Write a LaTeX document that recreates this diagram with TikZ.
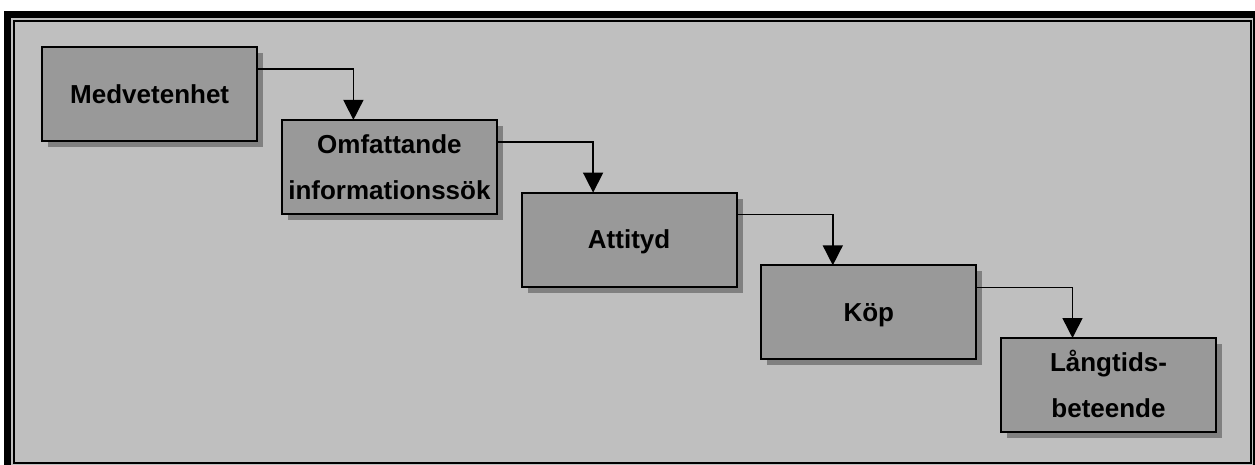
\documentclass[tikz,border=0pt]{standalone}
\usepackage{fontspec}
\setmainfont{Liberation Sans}
\usepackage{xcolor}
\usepackage{tikz}
\usetikzlibrary{matrix}
\usetikzlibrary{arrows.meta}
\usetikzlibrary{shadows}

\definecolor{panelgray}{gray}{0.75}
\definecolor{boxgray}{gray}{0.6}
\definecolor{shadegray}{gray}{0.5}

% two centred lines inside one cell
\newcommand{\twolines}[2]{\begin{tabular}{@{}c@{}}#1\\#2\end{tabular}}

\begin{document}
\begin{tikzpicture}[x=1pt,y=-1pt]

\tikzset{stage matrix/.style={
    matrix of nodes, column sep=22.7pt, row sep=-23.3pt, inner sep=0pt,
    nodes={draw, line width=2pt, fill=boxgray,
      drop shadow={shadow xshift=6pt, shadow yshift=-6pt, fill=shadegray, opacity=1},
      minimum width=#1, minimum height=94pt, anchor=center,
      inner sep=0pt, outer sep=0pt, font=\bfseries\fontsize{26}{46}\selectfont
    },
  }, stage matrix/.default=215pt,
  stage arrow/.style={line width=1.6pt, -{Triangle[width=20pt,length=20pt]}}
}

\useasboundingbox (0,0) rectangle (1255,465);
% double frame round the panel
\fill[black] (4,11) rectangle (1270,480);
\fill[panelgray] (11,18) rectangle (1253,470);
\draw[line width=2pt, fill=panelgray] (14,21) rectangle (1251,463);

\matrix[stage matrix, anchor=north west] (stage) at (41,46) {
Medvetenhet\strut \\
& \twolines{Omfattande}{informationssök} \\
& & Attityd\strut \\
& & & Köp\strut \\
& & & & \twolines{Långtids-}{beteende} \\
};

\draw[stage arrow] ([yshift=-22pt]stage-1-1.north east) -| ([xshift=-36pt]stage-2-2.north);
\draw[stage arrow] ([yshift=-22pt]stage-2-2.north east) -| ([xshift=-36pt]stage-3-3.north);
\draw[stage arrow] ([yshift=-22pt]stage-3-3.north east) -| ([xshift=-36pt]stage-4-4.north);
\draw[stage arrow] ([yshift=-22pt]stage-4-4.north east) -| ([xshift=-36pt]stage-5-5.north);
\end{tikzpicture}
\end{document}
